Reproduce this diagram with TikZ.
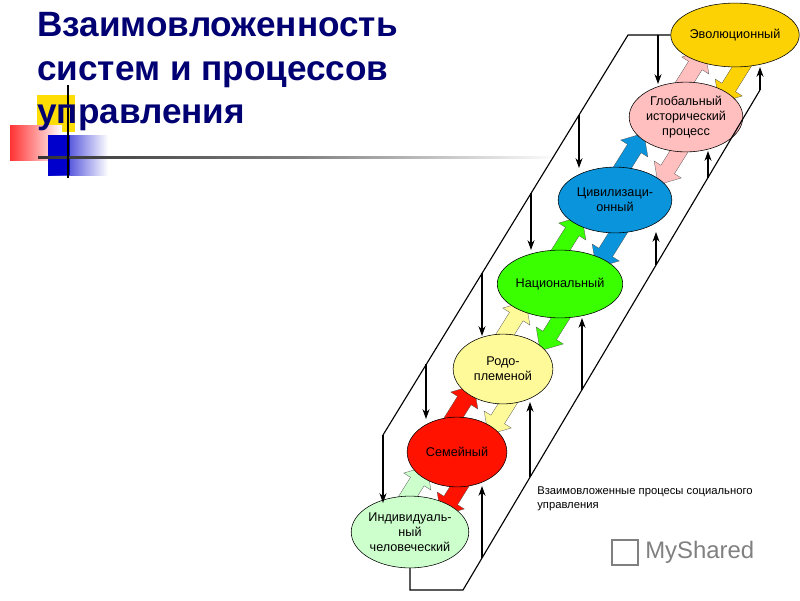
\documentclass[tikz,border=0pt]{standalone}
\usepackage{fontspec}
\setmainfont{Liberation Sans}
\usetikzlibrary{shapes.geometric,arrows.meta}
\newcommand\blkarrow[4]{\begin{scope}[shift={(#1,#2)},rotate=#3]
\filldraw[fill=#4,draw=gray!60!black,very thin] (-28,-8) -- (10,-8) -- (10,-16) -- (28,0) -- (10,16) -- (10,8) -- (-28,8) -- cycle;
\end{scope}}
\begin{document}
\begin{tikzpicture}[x=0.025cm,y=-0.025cm,
  el/.style={ellipse,draw=black,thin,inner sep=0pt,font=\fontsize{9}{10.5}\selectfont,align=center},
  ln/.style={thick,black},
  ar/.style={thick,black,-{Stealth[length=7pt,width=5pt]}}]
\useasboundingbox (0,0) rectangle (800,600);
% decorations
\fill[yellow!80!orange] (37,95) rectangle (75,132);
\shade[left color=red!80, right color=white] (10,125) rectangle (62,160);
\shade[left color=blue!80!black, right color=white] (48,135) rectangle (108,175);
\fill[blue!80!black] (48,135) rectangle (70,175);
\shade[left color=black!80, right color=white, middle color=gray] (38,156) rectangle (560,158);
\draw[thick] (68,85) -- (68,178);
\node[anchor=north west,align=left,font=\fontsize{25}{31}\selectfont\bfseries,text=blue!45!black,inner sep=0pt] (title) at (37,12) {Взаимовложенность\\систем и процессов\\управления};
% block arrows
\blkarrow{412}{490}{58}{green!20}
\blkarrow{456}{492}{238}{red!85!orange}
\blkarrow{459}{409}{58}{red!85!orange}
\blkarrow{503}{411}{238}{yellow!40}
\blkarrow{511}{325}{58}{yellow!40}
\blkarrow{555}{327}{238}{green!70!lime}
\blkarrow{567}{240}{58}{green!70!lime}
\blkarrow{611}{244}{238}{cyan!80!blue}
\blkarrow{629}{157}{58}{cyan!80!blue}
\blkarrow{673}{161}{238}{red!25}
\blkarrow{690}{74}{58}{red!25}
\blkarrow{734}{79}{238}{yellow!70!orange}
% ellipses
\node[el,fill=yellow!70!orange,minimum width={104*0.709pt},minimum height={64*0.709pt}] (e7) at (735,35) {Эволюционный};
\node[el,fill=red!25,minimum width={114*0.709pt},minimum height={70*0.709pt}] (e6) at (686,117) {Глобальный\\исторический\\процесс};
\node[el,fill=cyan!80!blue,minimum width={114*0.709pt},minimum height={66*0.709pt}] (e5) at (615,200) {Цивилизаци-\\онный};
\node[el,fill=green!70!lime,minimum width={114*0.709pt},minimum height={68*0.709pt}] (e4) at (560,284) {Национальный};
\node[el,fill=yellow!40,minimum width={100*0.709pt},minimum height={70*0.709pt}] (e3) at (503,369) {Родо-\\племеной};
\node[el,fill=red!85!orange,minimum width={100*0.709pt},minimum height={70*0.709pt}] (e2) at (457,452) {Семейный};
\node[el,fill=green!20,minimum width={104*0.709pt},minimum height={72*0.709pt}] (e1) at (410,532) {Индивидуаль-\\ный\\человеческий};
% left feedback line
\coordinate (lt) at (628,35);
\coordinate (lb) at (383,435);
\draw[ln] (e7.west) -- (lt) -- (lb);
\draw[ar] (lb) -- (383,503);
\draw[ar] (658,35) -- (658,84);
\draw[ar] (579,115) -- (579,168);
\draw[ar] (531,193) -- (531,250);
\draw[ar] (482,273) -- (482,336);
\draw[ar] (426,364) -- (426,419);
% right feed line
\coordinate (rb) at (463,590);
\coordinate (rt) at (760,90);
\draw[ln] (e1.south) -- (410,590) -- (rb) -- (rt);
\draw[ar] (rt) -- (760,67);
\draw[ar] (482,558) -- (482,486);
\draw[ar] (530,477) -- (530,402);
\draw[ar] (582,390) -- (582,318);
\draw[ar] (656,265) -- (656,232);
\draw[ar] (708,178) -- (708,151);
% caption
\node[anchor=north west,align=left,font=\fontsize{8}{10}\selectfont,inner sep=0pt] (cap) at (537,486) {Взаимовложенные процесы социального\\управления};
\node[anchor=west,font=\fontsize{17}{20}\selectfont,text=gray,inner sep=0pt] (ms) at (645,552) {MyShared};
\draw[gray,thick] (612,540) rectangle (638,565);
\end{tikzpicture}
\end{document}
